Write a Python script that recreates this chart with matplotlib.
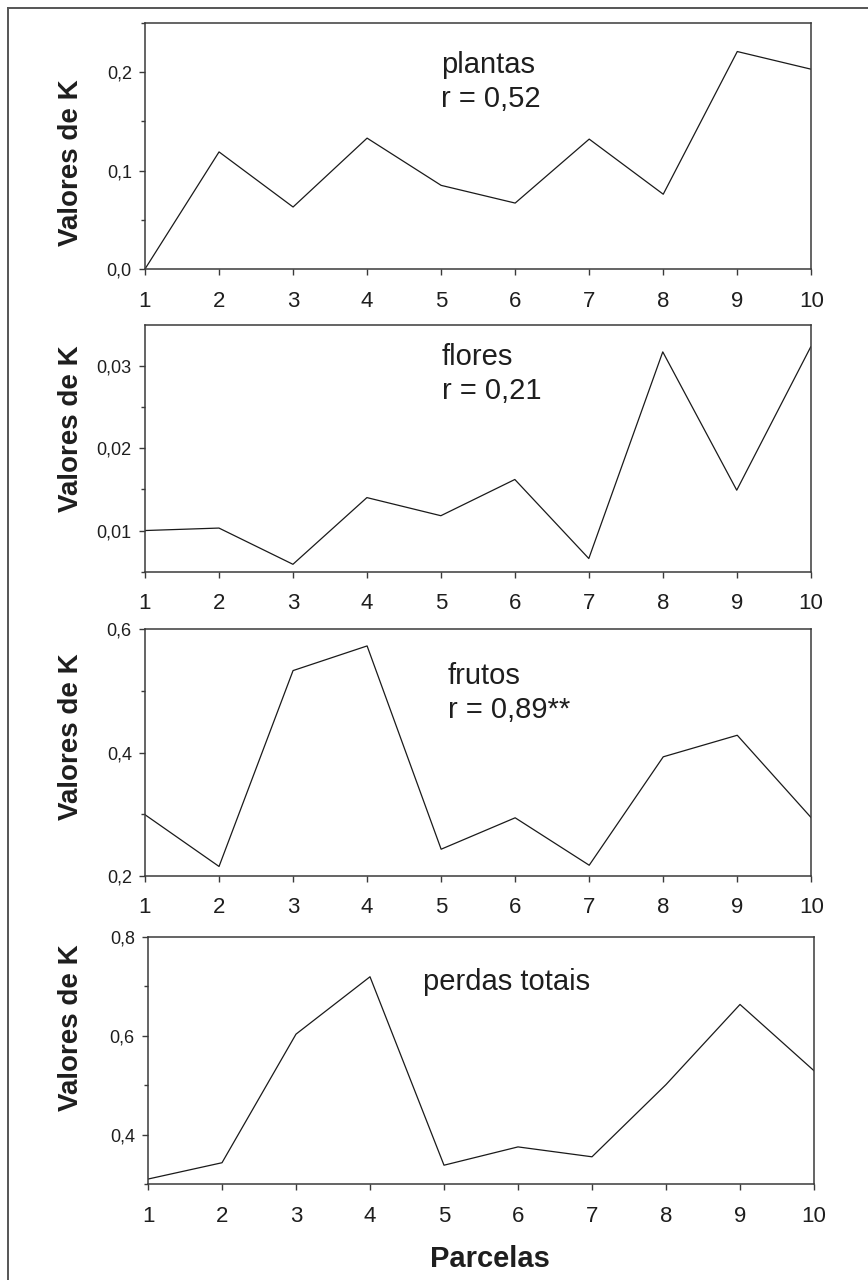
import matplotlib
matplotlib.use("Agg")
import matplotlib.pyplot as plt
from matplotlib.lines import Line2D
from matplotlib.ticker import FixedLocator

plt.rcParams['font.family'] = ['Liberation Sans', 'DejaVu Sans']

# ---- data ----
parcelas = [1, 2, 3, 4, 5, 6, 7, 8, 9, 10]
k_plantas = [0.0, 0.119, 0.063, 0.133, 0.085, 0.067, 0.132, 0.076, 0.221, 0.203]
k_flores = [0.0100, 0.0103, 0.0059, 0.0140, 0.0118, 0.0162, 0.0066, 0.0317, 0.0149, 0.0323]
k_frutos = [0.299, 0.215, 0.533, 0.573, 0.243, 0.294, 0.217, 0.393, 0.428, 0.294]
k_totais = [0.310, 0.343, 0.603, 0.719, 0.338, 0.375, 0.355, 0.501, 0.663, 0.529]

labels_plantas = ["plantas", "r = 0,52"]
labels_flores = ["flores", "r = 0,21"]
labels_frutos = ["frutos", "r = 0,89**"]
labels_totais = ["perdas totais"]

yt_plantas = [0.0, 0.1, 0.2]
yt_plantas_lbl = ["0,0", "0,1", "0,2"]
ym_plantas = [0.05, 0.15, 0.25]
yt_flores = [0.01, 0.02, 0.03]
yt_flores_lbl = ["0,01", "0,02", "0,03"]
ym_flores = [0.005, 0.015, 0.025]
yt_frutos = [0.2, 0.4, 0.6]
yt_frutos_lbl = ["0,2", "0,4", "0,6"]
ym_frutos = [0.3, 0.5]
yt_totais = [0.4, 0.6, 0.8]
yt_totais_lbl = ["0,4", "0,6", "0,8"]
ym_totais = [0.3, 0.5, 0.7]

W, H = 868, 1280
fig = plt.figure(figsize=(W / 100, H / 100), dpi=100)

def fx(px):
    return px / W

def fy(py):
    return 1 - py / H

spine_c = '#3a3a3a'
text_c = '#1e1e1e'

panels = [
    ((145, 811.3, 23, 269), k_plantas, (0.0, 0.25), yt_plantas, yt_plantas_lbl, ym_plantas,
     labels_plantas, 441, [73.3, 106.7], 163),
    ((145, 810.7, 324.7, 571.7), k_flores, (0.005, 0.035), yt_flores, yt_flores_lbl, ym_flores,
     labels_flores, 442, [365, 399.3], 429),
    ((145, 811.3, 629.3, 875.7), k_frutos, (0.2, 0.6), yt_frutos, yt_frutos_lbl, ym_frutos,
     labels_frutos, 448, [684, 718.3], 737),
    ((148, 814, 936.7, 1184), k_totais, (0.3, 0.8), yt_totais, yt_totais_lbl, ym_totais,
     labels_totais, 423.3, [990], 1027.5),
]

axes = []
for (box, data, ylim, yt, ytl, ym, anns, ax_x, ann_bl, ylab_y) in panels:
    l, r, t, b = box
    ax = fig.add_axes([fx(l), fy(b), fx(r) - fx(l), fy(t) - fy(b)])
    ax.plot(parcelas, data, color='#1a1a1a', linewidth=0.9)
    ax.set_xlim(1, 10)
    ax.set_ylim(*ylim)
    ax.set_xticks(parcelas)
    ax.set_xticklabels([str(p) for p in parcelas])
    ax.yaxis.set_major_locator(FixedLocator(yt))
    ax.set_yticklabels(ytl)
    ax.yaxis.set_minor_locator(FixedLocator(ym))
    for s in ax.spines.values():
        s.set_color(spine_c)
        s.set_linewidth(1.1)
    ax.tick_params(axis='x', which='major', direction='out', length=4.5, width=1.0,
                   color=spine_c, labelsize=16, pad=11, labelcolor=text_c)
    ax.tick_params(axis='y', which='major', direction='out', length=4.5, width=1.0,
                   color=spine_c, labelsize=13, pad=5, labelcolor=text_c)
    ax.tick_params(axis='y', which='minor', direction='out', length=3, width=1.0,
                   color=spine_c)
    ax.set_ylabel('Valores de K', fontsize=20, fontweight='bold', color=text_c)
    ax.yaxis.set_label_coords(fx(71), fy(ylab_y), transform=fig.transFigure)
    ax.yaxis.label.set_va('center')
    ax.yaxis.label.set_ha('center')
    for txt, bl in zip(anns, ann_bl):
        fig.text(fx(ax_x), fy(bl), txt, fontsize=21, color=text_c,
                 ha='left', va='baseline')
    axes.append(ax)

ax4 = axes[-1]
ax4.set_xlabel('Parcelas', fontsize=21, fontweight='bold', color=text_c)
ax4.xaxis.set_label_coords(fx(489.7), fy(1267), transform=fig.transFigure)
ax4.xaxis.label.set_va('baseline')
ax4.xaxis.label.set_ha('center')

# outer frame (left and top edges visible)
fig.add_artist(Line2D([fx(8), fx(8)], [fy(8), 0], transform=fig.transFigure,
                      color='#555555', linewidth=1.4))
fig.add_artist(Line2D([fx(8), 1], [fy(8), fy(8)], transform=fig.transFigure,
                      color='#555555', linewidth=1.4))

fig.savefig('out.png', dpi=100, facecolor='white')
